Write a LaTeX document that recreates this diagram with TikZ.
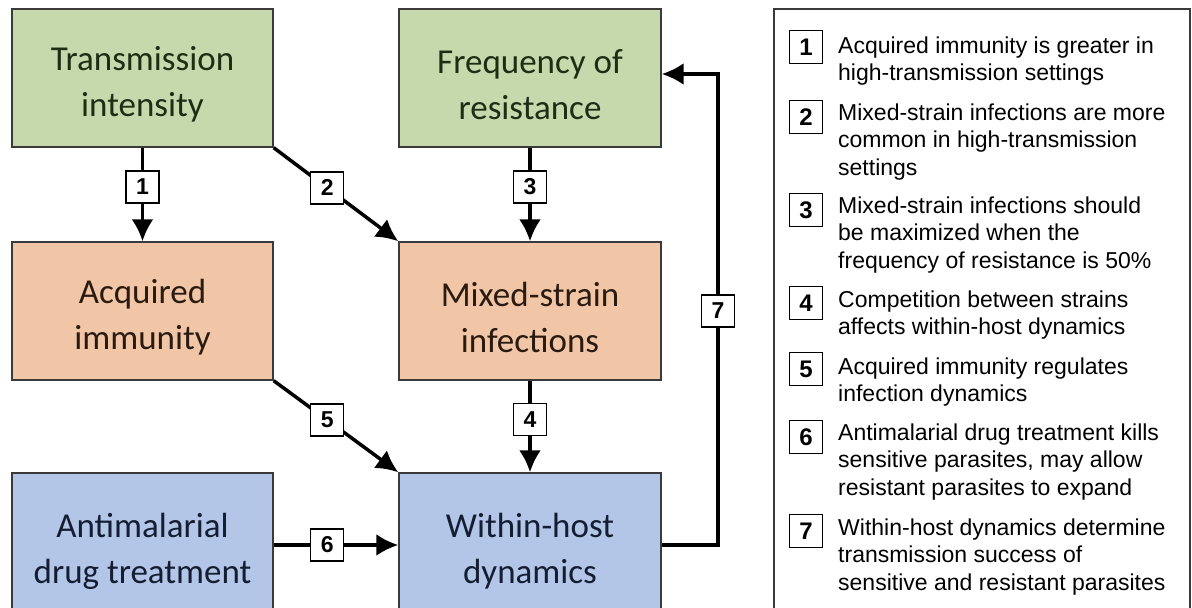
\documentclass[tikz,border=0pt]{standalone}
\usepackage{fontspec}
\setmainfont{Carlito}
\newfontfamily\legfont{Liberation Sans}
\usetikzlibrary{arrows.meta}
\definecolor{gfill}{HTML}{C5D9AC}
\definecolor{ofill}{HTML}{F0C6A6}
\definecolor{bfill}{HTML}{B4C6E7}
\definecolor{gtext}{HTML}{1F2D14}
\definecolor{otext}{HTML}{2B1A10}
\definecolor{btext}{HTML}{141E33}
\definecolor{edge}{HTML}{3A3A3A}
\tikzset{
  factor/.style={draw=edge, line width=1.4pt, minimum width=261pt, minimum height=138pt, align=center, inner sep=0pt, font=\fontsize{35}{46}\selectfont},
  arr/.style={line width=3.5pt, -{Latex[length=22pt,width=22pt]}},
  lbl/.style={draw=black, fill=white, line width=1.3pt, minimum width=33pt, minimum height=32pt, inner sep=0pt, font=\legfont\bfseries\fontsize{23}{23}\selectfont, text=black},
  keybox/.style={draw=black, fill=white, line width=1.4pt, minimum width=33pt, minimum height=33pt, inner sep=0pt, font=\legfont\bfseries\fontsize{24}{24}\selectfont},
  keytext/.style={anchor=base west, inner sep=0pt}
}
\newcommand{\keylines}[1]{\parbox[t]{350pt}{\legfont\fontsize{23}{27.5}\selectfont\raggedright #1}}
\newcommand{\up}{\rule{0pt}{37pt}}
\begin{document}
\begin{tikzpicture}[x=1pt,y=-1pt]
\useasboundingbox (0,0) rectangle (1192,608);
% boxes
\node[factor, fill=gfill, text=gtext] (ti) at (142.5,78) {\up Transmission\\intensity};
\node[factor, fill=gfill, text=gtext, minimum width=262pt] (fr) at (530,78) {\up Frequency of\\resistance};
\node[factor, fill=ofill, text=otext] (ai) at (142.5,311) {\up Acquired\\immunity};
\node[factor, fill=ofill, text=otext, minimum width=262pt] (mx) at (530,311) {\up Mixed-strain\\infections};
\node[factor, fill=bfill, text=btext, minimum height=144pt] (am) at (142.5,545) {\up Antimalarial\\drug treatment};
\node[factor, fill=bfill, text=btext, minimum width=262pt, minimum height=144pt] (wh) at (530,545) {\up Within-host\\dynamics};
% connectors
\draw[arr] (ti.south) -- (ai.north) node[lbl, pos=0.42] (l1) {1};
\draw[arr] (ti.south east) -- (mx.north west) node[lbl, pos=0.43] (l2) {2};
\draw[arr] (fr.south) -- (mx.north) node[lbl, pos=0.42] (l3) {3};
\draw[arr] (mx.south) -- (wh.north) node[lbl, pos=0.42] (l4) {4};
\draw[arr] (ai.south east) -- (wh.north west) node[lbl, pos=0.43] (l5) {5};
\draw[arr] (am.east) -- (wh.east -| wh.west) node[lbl, pos=0.43] (l6) {6};
\coordinate (c7) at (718,300);
\draw[arr] (wh.east) -- (wh.east -| c7) |- ([yshift=4pt]fr.east);
\node[lbl] (l7) at (718,311) {7};
% legend
\draw[edge, line width=1.4pt] (774,9) rectangle (1190,625);
\node[keybox] (k1) at (806,47) {1};
\node[keytext] (t1) at (838,53) {\keylines{Acquired immunity is greater in\\high-transmission settings}};
\node[keybox] (k2) at (806,117) {2};
\node[keytext] (t2) at (838,120) {\keylines{Mixed-strain infections are more\\common in high-transmission\\settings}};
\node[keybox] (k3) at (806,210) {3};
\node[keytext] (t3) at (838,213) {\keylines{Mixed-strain infections should\\be maximized when the\\frequency of resistance is 50\%}};
\node[keybox] (k4) at (806,303) {4};
\node[keytext] (t4) at (838,307) {\keylines{Competition between strains\\affects within-host dynamics}};
\node[keybox] (k5) at (806,369) {5};
\node[keytext] (t5) at (838,374) {\keylines{Acquired immunity regulates\\infection dynamics}};
\node[keybox] (k6) at (806,437) {6};
\node[keytext] (t6) at (838,440) {\keylines{Antimalarial drug treatment kills\\sensitive parasites, may allow\\resistant parasites to expand}};
\node[keybox] (k7) at (806,531) {7};
\node[keytext] (t7) at (838,535) {\keylines{Within-host dynamics determine\\transmission success of\\sensitive and resistant parasites}};
\end{tikzpicture}
\end{document}
